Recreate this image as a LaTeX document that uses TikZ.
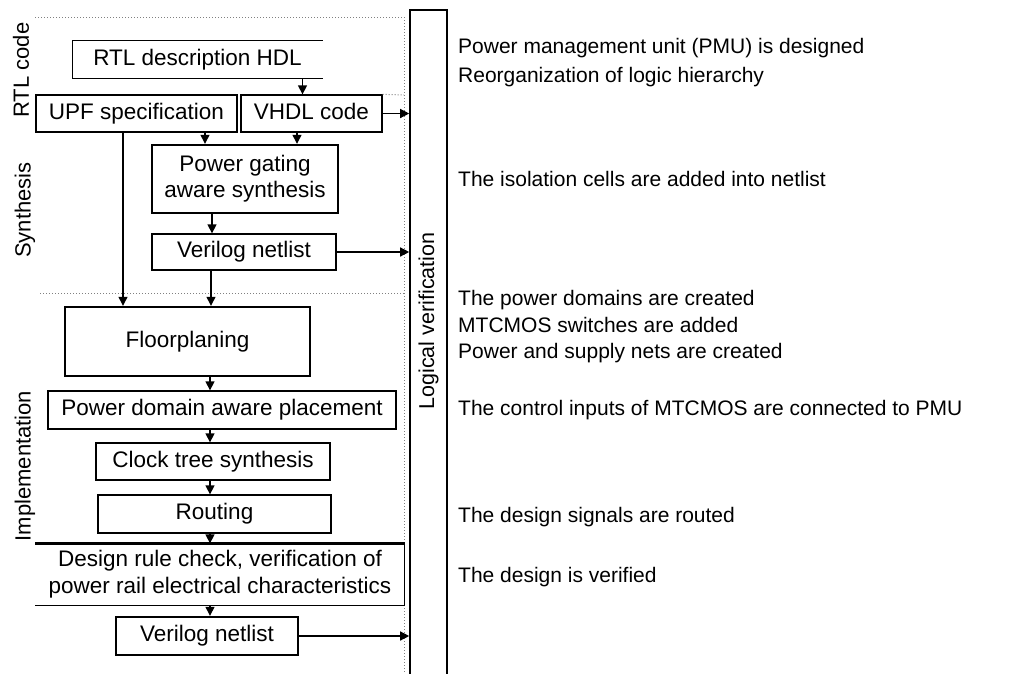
\documentclass[tikz,border=0pt]{standalone}
\usepackage{fontspec}
\setmainfont{Liberation Sans}
\usetikzlibrary{arrows.meta}
\tikzset{
  box/.style={draw, line width=1.3pt, inner sep=0pt, minimum height=37pt, align=center, font=\fontsize{22.5}{26}\selectfont},
  oneline/.style={text height=16pt, text depth=4.5pt},
  thickbox/.style={box, line width=2.4pt},
  arr/.style={-{Triangle[length=9pt,width=9pt]}, line width=1.3pt},
  sep/.style={dotted, gray, line width=1pt},
  note/.style={anchor=west, inner sep=0pt, text height=15pt, text depth=4.5pt, font=\fontsize{21}{25}\selectfont},
  stage/.style={rotate=90, inner sep=0pt, font=\fontsize{22}{26}\selectfont}
}
\begin{document}
\begin{tikzpicture}[x=1pt, y=-1pt]
\useasboundingbox (0,0) rectangle (1010,673);
\fill[white] (0,0) rectangle (1010,673);
% stage separators
\draw[sep] (35,17) -- (404,17);
\draw[sep] (40,293) -- (404,293);
\draw[sep] (404,17) -- (404,673);
% flow boxes
\node[box, oneline, draw=none, minimum width=249pt] (rtl) at (197.5,59.5) {RTL description HDL};
\draw[line width=1.3pt] (rtl.north east) -- (rtl.north west) -- (rtl.south west) -- (rtl.south east);
\node[box, oneline, minimum width=201pt] (upf) at (136.5,113.5) {UPF specification};
\node[box, oneline, minimum width=141pt] (vhdl) at (311.5,113.5) {VHDL code};
\draw[sep] (vhdl.north east) -- (404,95);
\node[thickbox, minimum width=186pt, minimum height=68pt] (pgsyn) at (245,179) {Power gating\\aware synthesis};
\node[box, oneline, minimum width=184pt, minimum height=36pt] (vnet) at (244,252) {Verilog netlist};
\node[thickbox, oneline, minimum width=245pt, minimum height=69pt] (floor) at (187.5,341.5) {Floorplaning};
\node[box, oneline, minimum width=348pt, minimum height=38pt] (place) at (222,410) {Power domain aware placement};
\node[box, oneline, minimum width=234pt] (cts) at (213,461.5) {Clock tree synthesis};
\node[box, oneline, minimum width=233pt, minimum height=38pt] (route) at (214.5,514) {Routing};
\node[box, draw=none, minimum width=368pt, minimum height=61pt, font=\fontsize{22.5}{27}\selectfont] (drc) at (220,574.5) {Design rule check, verification of\\power rail electrical characteristics};
\draw[line width=2.4pt] (drc.north west) -- (drc.north east);
\draw[line width=1.3pt] (drc.north east) -- (drc.south east) -- (drc.south west);
\node[thickbox, oneline, minimum width=182pt, minimum height=38pt] (vnetb) at (207,636) {Verilog netlist};
\node[draw, line width=1.6pt, minimum width=37pt, minimum height=670pt, inner sep=0pt] (logver) at (428.5,345) {};
\node[stage, font=\fontsize{21.5}{25}\selectfont] (lvtext) at (428.5,321) {Logical verification};
% stage labels
\node[stage] (lrtl) at (21,70) {RTL code};
\node[stage] (lsyn) at (25,210) {Synthesis};
\node[stage] (limp) at (25,466) {Implementation};
% connectors
\coordinate (spine) at (210,0);
\draw[arr] ([xshift=-9pt]vhdl.north |- rtl.south) -- ([xshift=-9pt]vhdl.north);
\draw[arr] (vhdl.east) -- (vhdl.east -| logver.west);
\draw[arr] ([xshift=-40pt]pgsyn.north |- upf.south) -- ([xshift=-40pt]pgsyn.north);
\draw[arr] ([xshift=52pt]pgsyn.north |- vhdl.south) -- ([xshift=52pt]pgsyn.north);
\draw[arr] ([xshift=-33pt]pgsyn.south) -- ([xshift=-33pt]pgsyn.south |- vnet.north);
\draw[arr] (vnet.east) -- (vnet.east -| logver.west);
\draw[arr] ([xshift=-13.5pt]upf.south) -- ([xshift=-13.5pt]upf.south |- floor.north);
\draw[arr] ([xshift=-33pt]vnet.south) -- ([xshift=-33pt]vnet.south |- floor.north);
\draw[arr] (spine |- floor.south) -- (spine |- place.north);
\draw[arr] (spine |- place.south) -- (spine |- cts.north);
\draw[arr] (spine |- cts.south) -- (spine |- route.north);
\draw[arr] (spine |- route.south) -- (spine |- drc.north);
\draw[arr] (spine |- drc.south) -- (spine |- vnetb.north);
\draw[arr] (vnetb.east) -- (vnetb.east -| logver.west);
% notes
\node[note] (n1) at (458,48) {Power management unit (PMU) is designed};
\node[note] (n2) at (458,77) {Reorganization of logic hierarchy};
\node[note] (n3) at (458,181) {The isolation cells are added into netlist};
\node[note] (n4) at (458,300) {The power domains are created};
\node[note] (n5) at (458,327) {MTCMOS switches are added};
\node[note] (n6) at (458,353) {Power and supply nets are created};
\node[note] (n7) at (458,410) {The control inputs of MTCMOS are connected to PMU};
\node[note] (n8) at (458,517) {The design signals are routed};
\node[note] (n9) at (458,577) {The design is verified};
\end{tikzpicture}
\end{document}
